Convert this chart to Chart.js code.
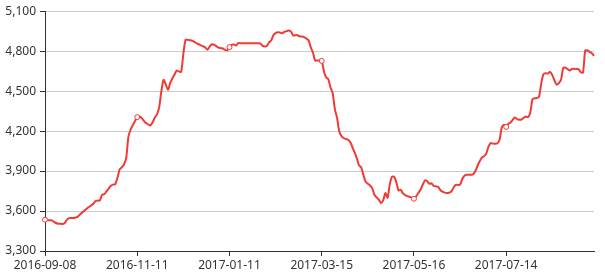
<!DOCTYPE html>
<html>
<head>
<meta charset="utf-8">
<script src="https://cdn.jsdelivr.net/npm/chart.js@4.4.0/dist/chart.umd.min.js"></script>
<style>
  html, body { margin: 0; padding: 0; background: #fff; }
</style>
</head>
<body>
<canvas id="line" width="605" height="275"></canvas>
<script>
// tick dates shown on the x axis, one every 42 points
const tickDates = ['2016-09-08', '2016-11-11', '2017-01-11', '2017-03-15', '2017-05-16', '2017-07-14'];
const tickEvery = 42;

// daily price
const price = [
  3535, 3532, 3530, 3530, 3520, 3510, 3505, 3505, 3503, 3510,
  3535, 3547, 3548, 3548, 3552, 3558, 3575, 3590, 3603, 3617,
  3630, 3642, 3655, 3675, 3678, 3680, 3722, 3727, 3748, 3768,
  3790, 3798, 3802, 3850, 3912, 3928, 3950, 4000, 4160, 4212,
  4245, 4275, 4305, 4310, 4298, 4278, 4260, 4250, 4242, 4265,
  4300, 4325, 4380, 4500, 4585, 4550, 4510, 4560, 4595, 4625,
  4655, 4648, 4645, 4780, 4885, 4885, 4882, 4878, 4870, 4860,
  4852, 4843, 4837, 4828, 4810, 4835, 4852, 4848, 4838, 4827,
  4823, 4820, 4810, 4805, 4830, 4848, 4850, 4842, 4860, 4860,
  4860, 4860, 4860, 4860, 4860, 4860, 4860, 4860, 4858, 4842,
  4835, 4838, 4865, 4880, 4920, 4935, 4942, 4940, 4935, 4945,
  4950, 4955, 4947, 4918, 4920, 4920, 4910, 4910, 4905, 4895,
  4882, 4830, 4790, 4730, 4730, 4730, 4727, 4650, 4605, 4590,
  4528, 4485, 4365, 4300, 4197, 4162, 4148, 4140, 4135, 4118,
  4078, 4040, 3995, 3943, 3928, 3870, 3820, 3805, 3792, 3772,
  3722, 3702, 3685, 3660, 3680, 3735, 3700, 3800, 3857, 3858,
  3815, 3755, 3760, 3732, 3720, 3712, 3707, 3700, 3692, 3710,
  3735, 3760, 3797, 3830, 3825, 3805, 3808, 3788, 3785, 3782,
  3758, 3745, 3738, 3735, 3737, 3745, 3775, 3797, 3796, 3798,
  3840, 3865, 3872, 3872, 3872, 3876, 3900, 3940, 3975, 4003,
  4012, 4035, 4085, 4110, 4106, 4105, 4108, 4135, 4228, 4247,
  4232, 4255, 4265, 4285, 4302, 4290, 4286, 4287, 4300, 4310,
  4305, 4340, 4440, 4447, 4447, 4460, 4560, 4628, 4635, 4632,
  4645, 4620, 4580, 4548, 4560, 4585, 4675, 4675, 4665, 4655,
  4667, 4667, 4667, 4665, 4642, 4640, 4805, 4805, 4795, 4785,
  4765
];

const yMin = 3300;
const yMax = 5100;
const yStep = 300;

const days = price.map((_, i) => i % tickEvery === 0 ? tickDates[i / tickEvery] : '');

const font = { family: '"Noto Sans", sans-serif', size: 12 };
const textColor = '#333';

new Chart(document.getElementById('line'), {
  type: 'line',
  data: {
    labels: days,
    datasets: [{
      data: price,
      borderColor: '#f03a35',
      borderWidth: 2,
      tension: 0.25,
      pointRadius: ctx => ctx.dataIndex % tickEvery === 0 ? 2.5 : 0,
      pointBackgroundColor: '#fff',
      pointBorderColor: '#f03a35',
      pointBorderWidth: 1
    }]
  },
  options: {
    responsive: false,
    animation: false,
    layout: { padding: { top: 11, right: 11, left: 0, bottom: 0 } },
    plugins: {
      legend: { display: false },
      tooltip: { enabled: false }
    },
    scales: {
      x: {
        afterFit: scale => { scale.height = 24; },
        border: { color: '#333', width: 1 },
        grid: {
          drawOnChartArea: false,
          tickLength: 5,
          color: ctx => (ctx.tick && ctx.tick.label) ? '#333' : 'rgba(0,0,0,0)'
        },
        ticks: {
          autoSkip: false,
          maxRotation: 0,
          padding: 2,
          color: textColor,
          font: font,
          callback: (v, i) => days[i] || ''
        }
      },
      y: {
        min: yMin,
        max: yMax,
        afterFit: scale => { scale.width = 45; },
        border: { color: '#333', width: 1 },
        grid: { color: '#ccc', tickLength: 5, tickColor: '#333' },
        ticks: {
          stepSize: yStep,
          padding: 4,
          color: textColor,
          font: font,
          callback: v => v.toLocaleString('en-US')
        }
      }
    }
  }
});
</script>
</body>
</html>
